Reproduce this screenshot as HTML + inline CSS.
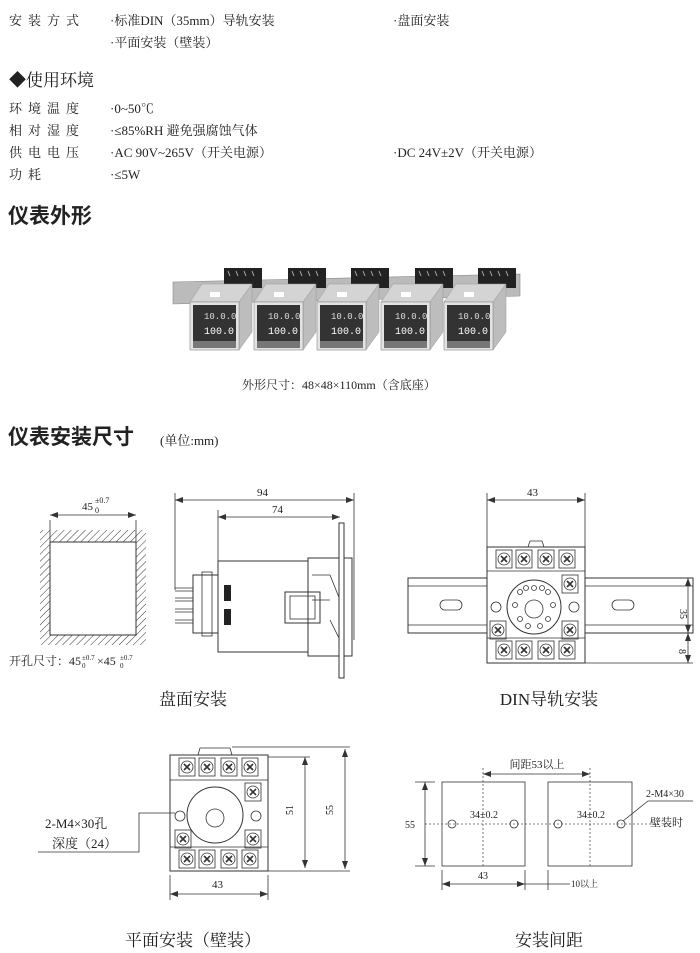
<!DOCTYPE html>
<html><head><meta charset="utf-8"><style>
html,body{margin:0;padding:0;background:#fff}
svg{display:block}
text{font-family:"Liberation Serif","Noto Serif CJK SC",serif;fill:#222}
.b{font-family:"Liberation Sans","Noto Sans CJK SC",sans-serif;font-weight:bold}
.l{stroke:#333;stroke-width:1;fill:none}
.t{stroke:#333;stroke-width:0.8;fill:none}
.d{stroke:#555;stroke-width:0.8;fill:none;stroke-dasharray:2 2}
</style></head><body>
<svg width="700" height="953" viewBox="0 0 700 953" xmlns="http://www.w3.org/2000/svg">
<defs>
<marker id="a" markerWidth="8" markerHeight="6" refX="8" refY="3" orient="auto-start-reverse" markerUnits="userSpaceOnUse"><path d="M0,0 L8,3 L0,6z" fill="#333"/></marker>
<pattern id="h" width="5" height="5" patternUnits="userSpaceOnUse" patternTransform="rotate(45)"><line x1="0" y1="0" x2="0" y2="5" stroke="#333" stroke-width="1"/></pattern>
<g id="scr"><rect x="-8" y="-9" width="16" height="18" class="t"/><circle r="6" class="t"/><path d="M-3,-3 L3,3 M3,-3 L-3,3" stroke="#333" stroke-width="1.6"/></g>
<g id="unit">
<rect x="34" y="-12" width="38" height="20" fill="#222"/>
<path d="M38,-9 l2,5 M46,-9 l2,5 M54,-9 l2,5 M62,-9 l2,5" stroke="#aaa" stroke-width="1"/>
<path d="M0,22 L12,4 L62,4 L49,22z" fill="#d4d4d4" stroke="#999" stroke-width="0.5"/>
<path d="M49,22 L62,4 L62,52 L49,70z" fill="#bdbdbd" stroke="#999" stroke-width="0.5"/>
<rect x="0" y="22" width="49" height="48" fill="#e3e3e3" stroke="#888" stroke-width="0.6"/>
<rect x="3" y="25" width="43" height="36" fill="#333"/>
<rect x="3" y="61" width="43" height="7" fill="#777"/>
<text x="14" y="39" font-size="9" style="fill:#ddd;font-family:'Liberation Mono',monospace">10.0.0</text>
<text x="14" y="54" font-size="10" style="fill:#fff;font-family:'Liberation Mono',monospace">100.0</text>
<rect x="20" y="12" width="10" height="5" fill="#fff"/>
</g>
</defs>

<g font-size="13">
<text x="9" y="25" letter-spacing="6">安装方式</text>
<text x="110" y="25">·标准DIN（35mm）导轨安装</text>
<text x="393" y="25">·盘面安装</text>
<text x="110" y="47">·平面安装（壁装）</text>
<text x="9" y="86" font-size="17">◆使用环境</text>
<text x="9" y="113" letter-spacing="6">环境温度</text><text x="110" y="113">·0~50℃</text>
<text x="9" y="135" letter-spacing="6">相对湿度</text><text x="110" y="135">·≤85%RH   避免强腐蚀气体</text>
<text x="9" y="157" letter-spacing="6">供电电压</text><text x="110" y="157">·AC  90V~265V（开关电源）</text>
<text x="393" y="157">·DC  24V±2V（开关电源）</text>
<text x="9" y="179" letter-spacing="6">功耗</text><text x="110" y="179">·≤5W</text>
</g>
<text x="8" y="223" font-size="21" class="b">仪表外形</text>

<path d="M173,282 L520,274 L520,296 L173,304z" fill="#bbb" stroke="#888" stroke-width="0.6"/>
<g transform="translate(190,280)"><use href="#unit"/></g>
<g transform="translate(254,280)"><use href="#unit"/></g>
<g transform="translate(317,280)"><use href="#unit"/></g>
<g transform="translate(381,280)"><use href="#unit"/></g>
<g transform="translate(444,280)"><use href="#unit"/></g>
<text x="242" y="389" font-size="12">外形尺寸：48×48×110mm（含底座）</text>

<text x="8" y="444" font-size="21" class="b">仪表安装尺寸</text>
<text x="160" y="445" font-size="13">(单位:mm)</text>

<rect x="40" y="530" width="106" height="115" fill="url(#h)"/>
<rect x="50" y="542" width="86" height="93" fill="#fff" stroke="#333"/>
<line x1="50" y1="520" x2="50" y2="542" class="t"/><line x1="136" y1="520" x2="136" y2="542" class="t"/>
<line x1="50" y1="515" x2="136" y2="515" class="t" marker-start="url(#a)" marker-end="url(#a)"/>
<text x="82" y="510" font-size="11">45</text><text x="95" y="503" font-size="8">±0.7</text><text x="95" y="513" font-size="8">0</text>
<text x="9" y="665" font-size="12">开孔尺寸：45</text><text x="82" y="660" font-size="7">±0.7</text><text x="82" y="668" font-size="7">0</text>
<text x="97" y="665" font-size="12">×45</text><text x="120" y="660" font-size="7">±0.7</text><text x="120" y="668" font-size="7">0</text>

<line x1="175" y1="493" x2="175" y2="590" class="t"/>
<line x1="354" y1="493" x2="354" y2="640" class="t"/>
<line x1="175" y1="500" x2="354" y2="500" class="t" marker-start="url(#a)" marker-end="url(#a)"/>
<text x="257" y="496" font-size="11">94</text>
<line x1="218" y1="510" x2="218" y2="575" class="t"/>
<line x1="218" y1="517" x2="340" y2="517" class="t" marker-start="url(#a)" marker-end="url(#a)"/>
<text x="272" y="513" font-size="11">74</text>
<rect x="218" y="561" width="90" height="91" class="l"/>
<rect x="308" y="558" width="44" height="98" class="l"/>
<path d="M312,575 L330,575 L340,600 M312,600 L330,600 M330,620 L340,640" class="t"/>
<path d="M339,523 L344,523 L344,678 L339,678z" fill="#fff" stroke="#333" stroke-width="1"/>
<rect x="285" y="592" width="35" height="31" class="l"/><rect x="290" y="596" width="25" height="23" class="t"/>
<rect x="193" y="575" width="25" height="58" class="l"/><rect x="202" y="572" width="10" height="64" class="t"/>
<line x1="175" y1="588" x2="193" y2="588" class="t"/><line x1="175" y1="591" x2="193" y2="591" class="t"/>
<line x1="175" y1="598" x2="193" y2="598" class="t"/><line x1="175" y1="601" x2="193" y2="601" class="t"/>
<line x1="175" y1="609" x2="193" y2="609" class="t"/><line x1="175" y1="612" x2="193" y2="612" class="t"/>
<line x1="175" y1="620" x2="193" y2="620" class="t"/><line x1="175" y1="623" x2="193" y2="623" class="t"/>
<rect x="224" y="585" width="7" height="16" fill="#222"/><rect x="224" y="609" width="7" height="16" fill="#222"/>
<text x="193" y="705" font-size="17" text-anchor="middle">盘面安装</text>

<rect x="408" y="578" width="285" height="55" class="l"/>
<line x1="408" y1="586" x2="693" y2="586" class="t"/><line x1="408" y1="625" x2="693" y2="625" class="t"/>
<rect x="440" y="600" width="22" height="10" rx="5" class="t"/><rect x="612" y="600" width="22" height="10" rx="5" class="t"/>
<rect x="487" y="547" width="98" height="116" fill="#fff" stroke="#333"/>
<path d="M528,547 L530,541 L542,541 L544,547" class="t"/>
<line x1="487" y1="571" x2="585" y2="571" class="t"/><line x1="487" y1="638" x2="585" y2="638" class="t"/>
<use href="#scr" x="504" y="559"/><use href="#scr" x="524" y="559"/><use href="#scr" x="546" y="559"/><use href="#scr" x="567" y="559"/>
<use href="#scr" x="504" y="650"/><use href="#scr" x="524" y="650"/><use href="#scr" x="546" y="650"/><use href="#scr" x="567" y="650"/>
<use href="#scr" x="570" y="584"/><use href="#scr" x="498" y="630"/><use href="#scr" x="570" y="630"/>
<circle cx="534" cy="607" r="27" class="l"/><circle cx="534" cy="609" r="9" class="t"/>
<circle cx="496" cy="607" r="5" class="t"/><circle cx="574" cy="607" r="5" class="t"/>
<g class="t"><circle cx="534" cy="588" r="2.5"/><circle cx="548" cy="592" r="2.5"/><circle cx="553" cy="605" r="2.5"/><circle cx="548" cy="619" r="2.5"/><circle cx="540" cy="626" r="2.5"/><circle cx="528" cy="626" r="2.5"/><circle cx="520" cy="619" r="2.5"/><circle cx="515" cy="605" r="2.5"/><circle cx="520" cy="592" r="2.5"/><circle cx="526" cy="588" r="2.5"/><circle cx="542" cy="588" r="2.5"/></g>
<line x1="487" y1="493" x2="487" y2="547" class="t"/><line x1="585" y1="493" x2="585" y2="547" class="t"/>
<line x1="487" y1="500" x2="585" y2="500" class="t" marker-start="url(#a)" marker-end="url(#a)"/>
<text x="527" y="496" font-size="11">43</text>
<line x1="688" y1="578" x2="688" y2="633" class="t" marker-start="url(#a)" marker-end="url(#a)"/>
<line x1="688" y1="633" x2="688" y2="663" class="t" marker-start="url(#a)" marker-end="url(#a)"/>
<line x1="585" y1="663" x2="693" y2="663" class="t"/>
<text x="684" y="605" font-size="10" transform="rotate(90 680 605)">35</text>
<text x="683" y="645" font-size="10" transform="rotate(90 679 645)">8</text>
<text x="549" y="705" font-size="17" text-anchor="middle">DIN导轨安装</text>

<rect x="170" y="755" width="98" height="116" fill="#fff" stroke="#333"/>
<path d="M198,755 L200,748 L230,748 L232,755" class="t"/>
<line x1="170" y1="780" x2="268" y2="780" class="t"/><line x1="170" y1="847" x2="268" y2="847" class="t"/>
<use href="#scr" x="187" y="767"/><use href="#scr" x="207" y="767"/><use href="#scr" x="229" y="767"/><use href="#scr" x="250" y="767"/>
<use href="#scr" x="187" y="859"/><use href="#scr" x="207" y="859"/><use href="#scr" x="229" y="859"/><use href="#scr" x="250" y="859"/>
<use href="#scr" x="253" y="792"/><use href="#scr" x="183" y="839"/><use href="#scr" x="253" y="839"/>
<circle cx="215" cy="815" r="28" class="l"/><circle cx="215" cy="818" r="9" class="t"/>
<circle cx="180" cy="816" r="5" class="t"/><circle cx="256" cy="816" r="5" class="t"/>
<line x1="232" y1="747" x2="350" y2="747" class="t"/><line x1="268" y1="757" x2="310" y2="757" class="t"/>
<line x1="268" y1="871" x2="350" y2="871" class="t"/>
<line x1="305" y1="757" x2="305" y2="868" class="t" marker-start="url(#a)" marker-end="url(#a)"/>
<line x1="345" y1="749" x2="345" y2="869" class="t" marker-start="url(#a)" marker-end="url(#a)"/>
<text x="300" y="808" font-size="10" transform="rotate(-90 300 815)">51</text>
<text x="340" y="808" font-size="10" transform="rotate(-90 340 815)">55</text>
<line x1="170" y1="875" x2="170" y2="900" class="t"/><line x1="268" y1="875" x2="268" y2="900" class="t"/>
<line x1="170" y1="894" x2="268" y2="894" class="t" marker-start="url(#a)" marker-end="url(#a)"/>
<text x="212" y="888" font-size="11">43</text>
<path d="M38,852 L139,852 L139,813 L175,813" class="t"/>
<text x="45" y="828" font-size="13">2-M4×30孔</text>
<text x="52" y="848" font-size="13">深度（24）</text>
<text x="193" y="946" font-size="17" text-anchor="middle">平面安装（壁装）</text>

<rect x="442" y="782" width="83" height="84" class="t"/>
<rect x="548" y="782" width="84" height="84" class="t"/>
<line x1="483" y1="768" x2="483" y2="866" class="d"/><line x1="590" y1="768" x2="590" y2="866" class="d"/>
<line x1="425" y1="824" x2="660" y2="824" class="d"/>
<line x1="483" y1="774" x2="590" y2="774" class="t" marker-start="url(#a)" marker-end="url(#a)"/>
<text x="537" y="768" font-size="11" text-anchor="middle">间距53以上</text>
<line x1="415" y1="782" x2="435" y2="782" class="t"/><line x1="415" y1="866" x2="435" y2="866" class="t"/>
<line x1="425" y1="782" x2="425" y2="866" class="t" marker-start="url(#a)" marker-end="url(#a)"/>
<text x="405" y="828" font-size="10">55</text>
<g class="t"><circle cx="452" cy="824" r="4"/><circle cx="514" cy="824" r="4"/><circle cx="558" cy="824" r="4"/><circle cx="621" cy="824" r="4"/></g>
<text x="484" y="818" font-size="10" text-anchor="middle">34±0.2</text>
<text x="591" y="818" font-size="10" text-anchor="middle">34±0.2</text>
<line x1="442" y1="870" x2="442" y2="890" class="t"/><line x1="525" y1="870" x2="525" y2="890" class="t"/><line x1="548" y1="870" x2="548" y2="890" class="t"/>
<line x1="442" y1="884" x2="525" y2="884" class="t" marker-start="url(#a)" marker-end="url(#a)"/>
<text x="478" y="879" font-size="10">43</text>
<line x1="525" y1="884" x2="548" y2="884" class="t"/><line x1="548" y1="884" x2="570" y2="884" class="t"/>
<text x="571" y="887" font-size="9">10以上</text>
<path d="M623,821 L648,801 L693,801" class="t"/>
<text x="646" y="797" font-size="10">2-M4×30</text>
<text x="650" y="826" font-size="11">壁装时</text>
<text x="549" y="946" font-size="17" text-anchor="middle">安装间距</text>
</svg>
</body></html>
